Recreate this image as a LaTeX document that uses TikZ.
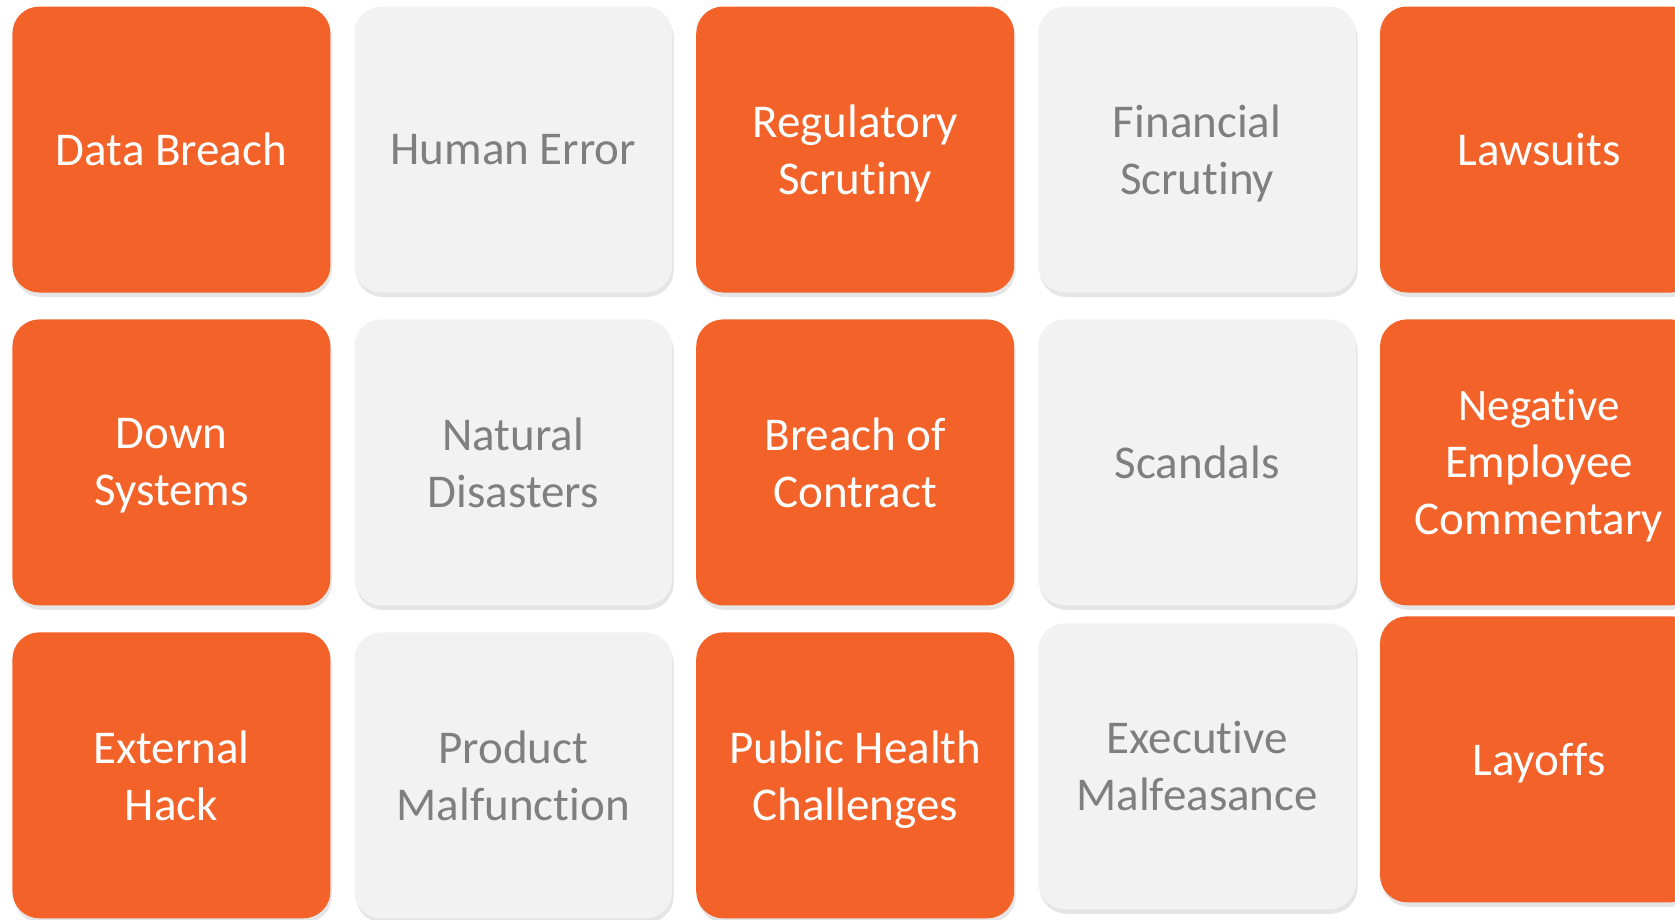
\documentclass[tikz,border=0pt]{standalone}
\usepackage{fontspec}
\setmainfont[Ligatures=NoCommon]{Carlito}
\usetikzlibrary{positioning, shadows}

\definecolor{riskorange}{HTML}{F26229}
\definecolor{riskgrey}{HTML}{F2F2F2}
\definecolor{risktext}{HTML}{7F7F7F}

\begin{document}
\begin{tikzpicture}[x=1pt,y=1pt,node distance=26.5pt and 23.5pt,
	tile/.style={rectangle, rounded corners=27pt, minimum width=318pt, minimum height=286pt, inner sep=0pt, align=center, text depth=0pt,
		drop shadow={shadow xshift=1.5pt, shadow yshift=-4.5pt, fill=black, opacity=0.10}},
	hot/.style={tile, fill=riskorange, text=white},
	cold/.style={tile, fill=riskgrey, text=risktext}]
		\useasboundingbox (0,0) rectangle (1675,-919);
		\clip (0,0) rectangle (1675,-919);
		\fontsize{47}{57}\selectfont
		\node[hot								] at (171.4,-149.5) (DATA_BREACH) 	{Data Breach};
		\node[cold, right=of DATA_BREACH		] (HUMAN_ERROR) 	{Human Error};
		\node[hot, right=of HUMAN_ERROR			] (REGULATORY) 		{Regulatory\\Scrutiny};
		\node[cold, right=of REGULATORY			] (FINANCIAL) 		{Financial\\Scrutiny};
		\node[hot, right=of FINANCIAL			] (LAWSUITS) 		{Lawsuits};

		\node[hot, below=of DATA_BREACH			] (DOWN_SYSTEMS) 	{Down\\Systems};
		\node[cold, below=of HUMAN_ERROR		] (DISASTERS) 		{Natural\\Disasters};
		\node[hot, below=of REGULATORY			] (CONTRACT) 		{Breach of\\Contract};
		\node[cold, below=of FINANCIAL			] (SCANDALS) 		{Scandals};
		\node[hot, below=of LAWSUITS			] (COMMENTARY) 		{\fontsize{45}{54}\selectfont Negative\\Employee\\Commentary};

		\node[hot, below=of DOWN_SYSTEMS		] (EXTERNAL_HACK) 	{External\\Hack};
		\node[cold, below=of DISASTERS			] (MALFUNCTION) 	{Product\\Malfunction};
		\node[hot, below=of CONTRACT			] (PUBLIC_HEALTH) 	{Public Health\\Challenges};
		\node[cold, below=17.5pt of SCANDALS	] (MALFEASANCE) 	{Executive\\Malfeasance};
		\node[hot, below=10.5pt of COMMENTARY	] (LAYOFFS) 		{Layoffs};

	\end{tikzpicture}
\end{document}
